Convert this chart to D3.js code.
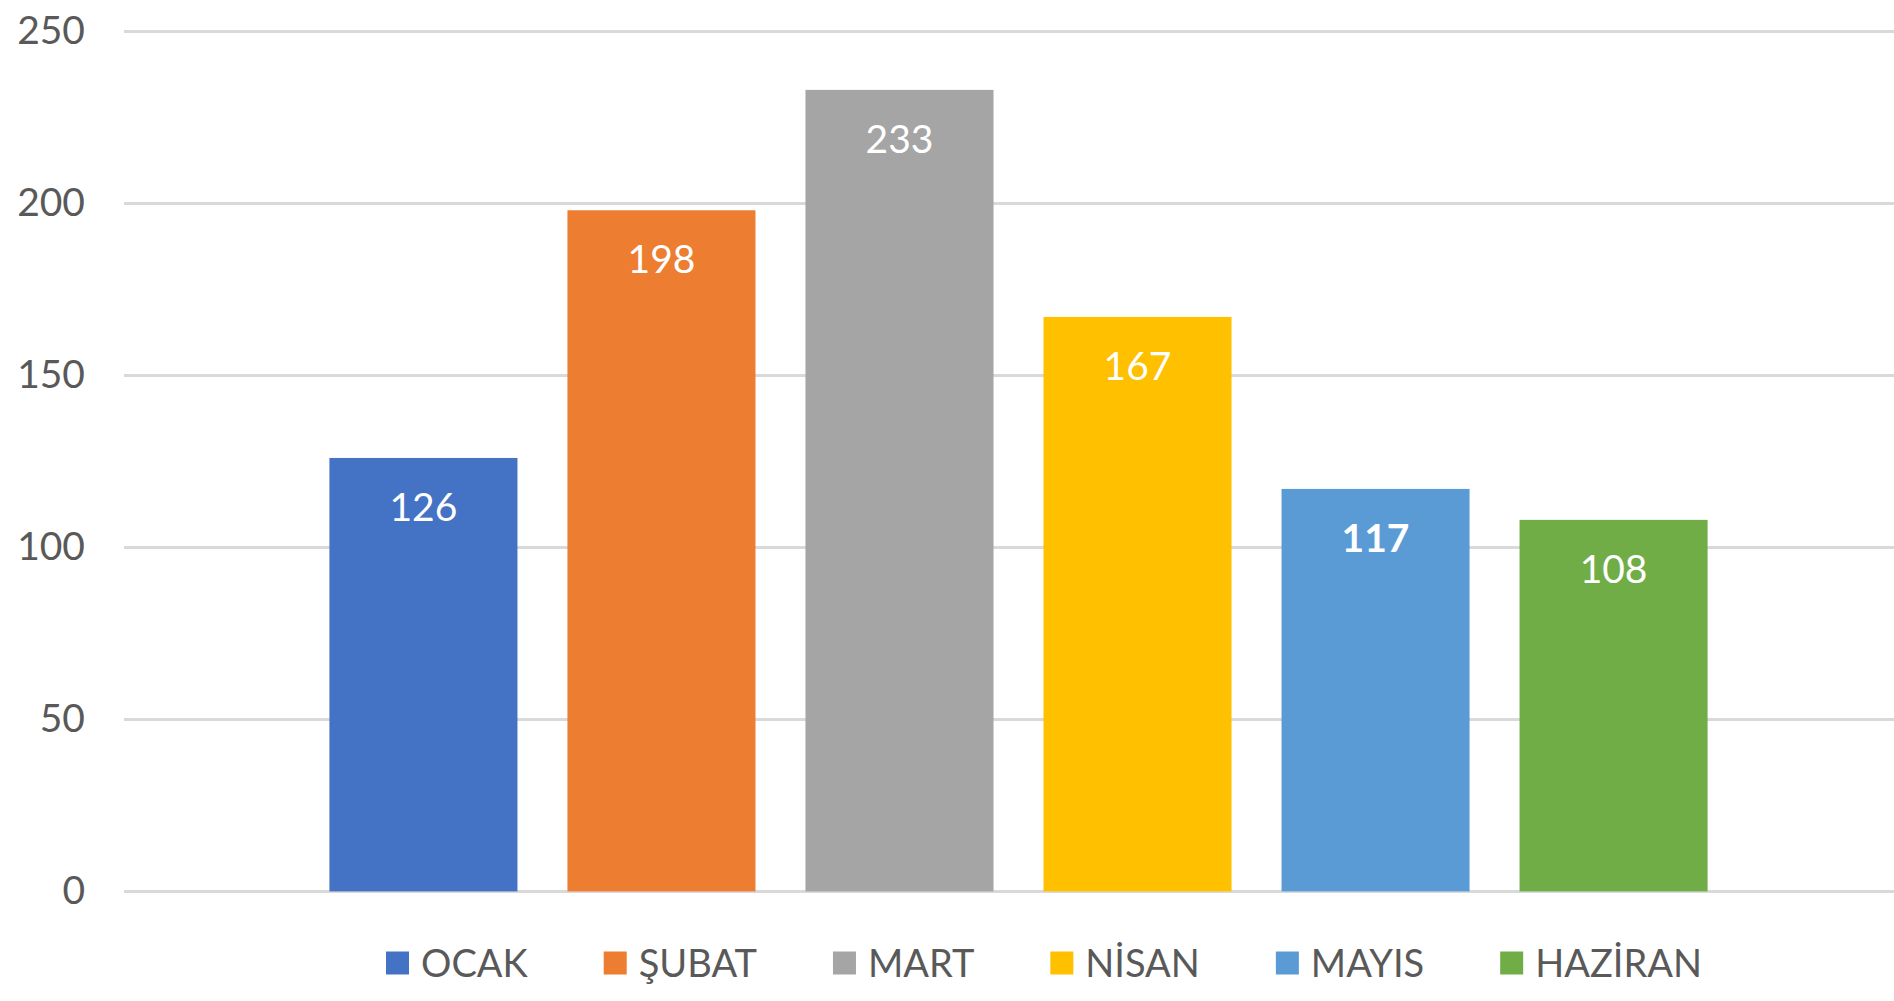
<!DOCTYPE html>
<html>
    <head>
        <title>Aylık Değerler</title>
        <script src="https://d3js.org/d3.v7.min.js"></script>
        <style>
            body {
                margin: 0;
                background: #fff;
            }
            svg text {
                font-family: Lato, 'Open Sans', sans-serif;
            }
            .grid line {
                stroke: #d9d9d9;
                stroke-width: 3px;
            }
            .tick-label {
                fill: #595959;
                font-size: 39px;
            }
            .bar-label {
                fill: #fff;
                font-size: 39px;
            }
            .legend text {
                fill: #595959;
                font-size: 38px;
            }
        </style>
    </head>
    <body>
        <div id="chart"></div>
        <script>
            const months = ['OCAK', 'ŞUBAT', 'MART', 'NİSAN', 'MAYIS', 'HAZİRAN'];
            const values = [126, 198, 233, 167, 117, 108];
            const colors = ['#4472C4', '#ED7D31', '#A5A5A5', '#FFC000', '#5B9BD5', '#70AD47'];
            const yTicks = [0, 50, 100, 150, 200, 250];
            const boldLabels = ['MAYIS'];

            const svgWidth = 1894,
                svgHeight = 1001;
            const plot = { left: 124, right: 1913, top: 31.4, bottom: 891.4 };

            const svg = d3
                .select('#chart')
                .append('svg')
                .attr('width', svgWidth)
                .attr('height', svgHeight);

            const y = d3.scaleLinear().domain([0, 250]).range([plot.bottom, plot.top]);
            const x = d3
                .scaleBand()
                .domain(months)
                .range([plot.left, plot.right])
                .paddingInner(0.21)
                .paddingOuter(0.863);

            // gridlines
            svg.append('g')
                .attr('class', 'grid')
                .selectAll('line')
                .data(yTicks)
                .enter()
                .append('line')
                .attr('x1', plot.left)
                .attr('x2', svgWidth)
                .attr('y1', (d) => y(d))
                .attr('y2', (d) => y(d));

            // y axis labels
            const yAxis = d3.axisLeft(y).tickValues(yTicks).tickSize(0).tickPadding(39);
            const yg = svg.append('g').attr('transform', 'translate(' + plot.left + ',0)').call(yAxis);
            yg.select('.domain').remove();
            yg.selectAll('text').attr('class', 'tick-label');
            yg.attr('font-size', null).attr('font-family', null);

            // bars
            svg.selectAll('.bar')
                .data(months)
                .enter()
                .append('rect')
                .attr('class', 'bar')
                .attr('x', (d) => x(d))
                .attr('width', x.bandwidth())
                .attr('y', (d, i) => y(values[i]))
                .attr('height', (d, i) => plot.bottom - y(values[i]))
                .attr('fill', (d, i) => colors[i]);

            // value labels
            svg.selectAll('.bar-label')
                .data(months)
                .enter()
                .append('text')
                .attr('class', 'bar-label')
                .attr('x', (d) => x(d) + x.bandwidth() / 2)
                .attr('y', (d, i) => y(values[i]) + 63)
                .attr('text-anchor', 'middle')
                .attr('font-weight', (d) => (boldLabels.includes(d) ? 'bold' : 'normal'))
                .text((d, i) => values[i]);

            // legend
            const legend = svg.append('g').attr('class', 'legend');
            const sw = 23,
                textGap = 12,
                itemGap = 76;
            const items = legend
                .selectAll('g')
                .data(months)
                .enter()
                .append('g');
            items
                .append('rect')
                .attr('width', sw)
                .attr('height', sw)
                .attr('y', -sw / 2)
                .attr('fill', (d, i) => colors[i]);
            items
                .append('text')
                .attr('x', sw + textGap)
                .attr('dy', '0.36em')
                .text((d) => d);
            let pos = 0;
            items.each(function () {
                const w = sw + textGap + d3.select(this).select('text').node().getComputedTextLength();
                d3.select(this).attr('transform', 'translate(' + pos + ',0)');
                pos += w + itemGap;
            });
            const total = pos - itemGap;
            legend.attr('transform', 'translate(' + (1044 - total / 2) + ',963)');
        </script>
    </body>
</html>
